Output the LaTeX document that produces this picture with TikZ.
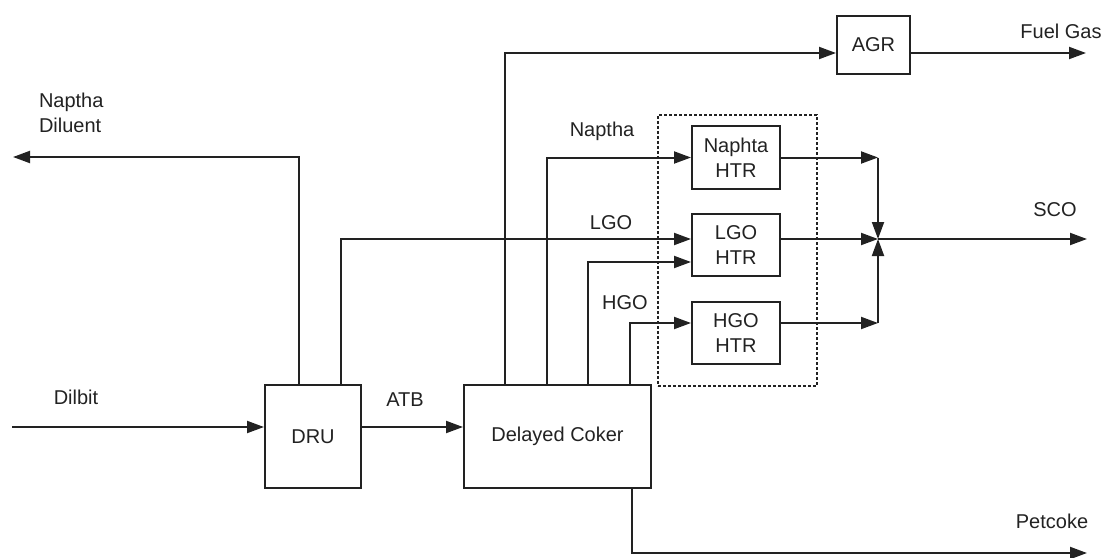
\documentclass[tikz,border=0pt]{standalone}
\usepackage{fontspec}
\setmainfont{Liberation Sans}
\usetikzlibrary{arrows.meta,calc}
\definecolor{ink}{HTML}{222222}
\begin{document}
\begin{tikzpicture}[x=1pt,y=-1pt, line width=2pt, draw=ink,
  >={Triangle[length=17pt,width=12pt]},
  box/.style={draw=ink, rectangle, inner sep=0pt, align=center, text=ink,
    font=\fontsize{20}{25}\selectfont},
  lbl/.style={anchor=base, inner sep=0pt, text=ink, font=\fontsize{20}{25}\selectfont},
  flow/.style={->, draw=ink}]
\useasboundingbox (0,0) rectangle (1105,557);

% process units
\node[box, minimum width=96pt, minimum height=103pt] (DRU) at (313,436.5) {DRU};
\node[box, minimum width=187pt, minimum height=103pt] (coker) at (557.5,436.5) {Delayed Coker};
\node[box, minimum width=73pt, minimum height=58pt] (AGR) at (873.5,45) {AGR};
\node[box, minimum width=88pt, minimum height=63pt] (nhtr) at (736,157.5) {Naphta\\HTR};
\node[box, minimum width=88pt, minimum height=62pt] (lhtr) at (736,245) {LGO\\HTR};
\node[box, minimum width=88pt, minimum height=62pt] (hhtr) at (736,333) {HGO\\HTR};
\node[draw=ink, line width=1.5pt, dash pattern=on 3pt off 2pt, inner sep=0pt,
  minimum width=159pt, minimum height=271pt] (grp) at (737.5,250.5) {};

% free ends and junction
\coordinate (dilin) at (12,427);
\coordinate (dilout) at (13,157);
\coordinate (J) at (878,239);
\coordinate (sco) at (1087,239);
\coordinate (fuel) at (1086,53);
\coordinate (pet) at (1087,553);

% taps
\coordinate (d1) at ($(DRU.north west)!0.354!(DRU.north east)$);
\coordinate (d2) at ($(DRU.north west)!0.781!(DRU.north east)$);
\coordinate (c1) at ($(coker.north west)!0.2246!(coker.north east)$);
\coordinate (c2) at ($(coker.north west)!0.444!(coker.north east)$);
\coordinate (c3) at ($(coker.north west)!0.663!(coker.north east)$);
\coordinate (c4) at ($(coker.north west)!0.882!(coker.north east)$);
\coordinate (c5) at ($(coker.south west)!0.892!(coker.south east)$);
\coordinate (lgoin1) at ($(lhtr.west)+(0,-6)$);
\coordinate (lgoin2) at ($(lhtr.west)+(0,17)$);
\coordinate (hgoin) at ($(hhtr.west)+(0,-10)$);
\coordinate (agrin) at ($(AGR.west)+(0,8)$);

% connectors
\draw[flow] (dilin) -- (dilin -| DRU.west);
\draw[flow] (DRU.east |- dilin) -- (coker.west |- dilin);
\draw[flow] (d1) |- (dilout);
\draw[flow] (d2) |- (lgoin1);
\draw[flow] (c1) |- (agrin);
\draw[flow] (c2) |- (nhtr.west);
\draw[flow] (c3) |- (lgoin2);
\draw[flow] (c4) |- (hgoin);
\draw[flow] (AGR.east |- agrin) -- (fuel);
\draw[flow] (nhtr.east) -- (nhtr.east -| J);
\draw[flow] (nhtr.east -| J) -- (J);
\draw[flow] (lhtr.east |- J) -- (J);
\draw[flow] (hhtr.east |- hgoin) -- (hgoin -| J);
\draw[flow] (hgoin -| J) -- (J);
\draw[flow] (J) -- (sco);
\draw[flow] (c5) |- (pet);

% labels
\node[anchor=north west, inner sep=0pt, align=left, text=ink,
  font=\fontsize{20}{25}\selectfont] (lND) at (38,92) {Naptha\\Diluent};
\node[lbl] (lDil) at (76,404) {Dilbit};
\node[lbl] (lATB) at (405,406) {ATB};
\node[lbl] (lNap) at (602,136) {Naptha};
\node[lbl] (lLGO) at (611,229) {LGO};
\node[lbl] (lHGO) at (625,309) {HGO};
\node[lbl] (lFuel) at (1061,38) {Fuel Gas};
\node[lbl] (lSCO) at (1055,216) {SCO};
\node[lbl] (lPet) at (1052,528) {Petcoke};
\end{tikzpicture}
\end{document}
